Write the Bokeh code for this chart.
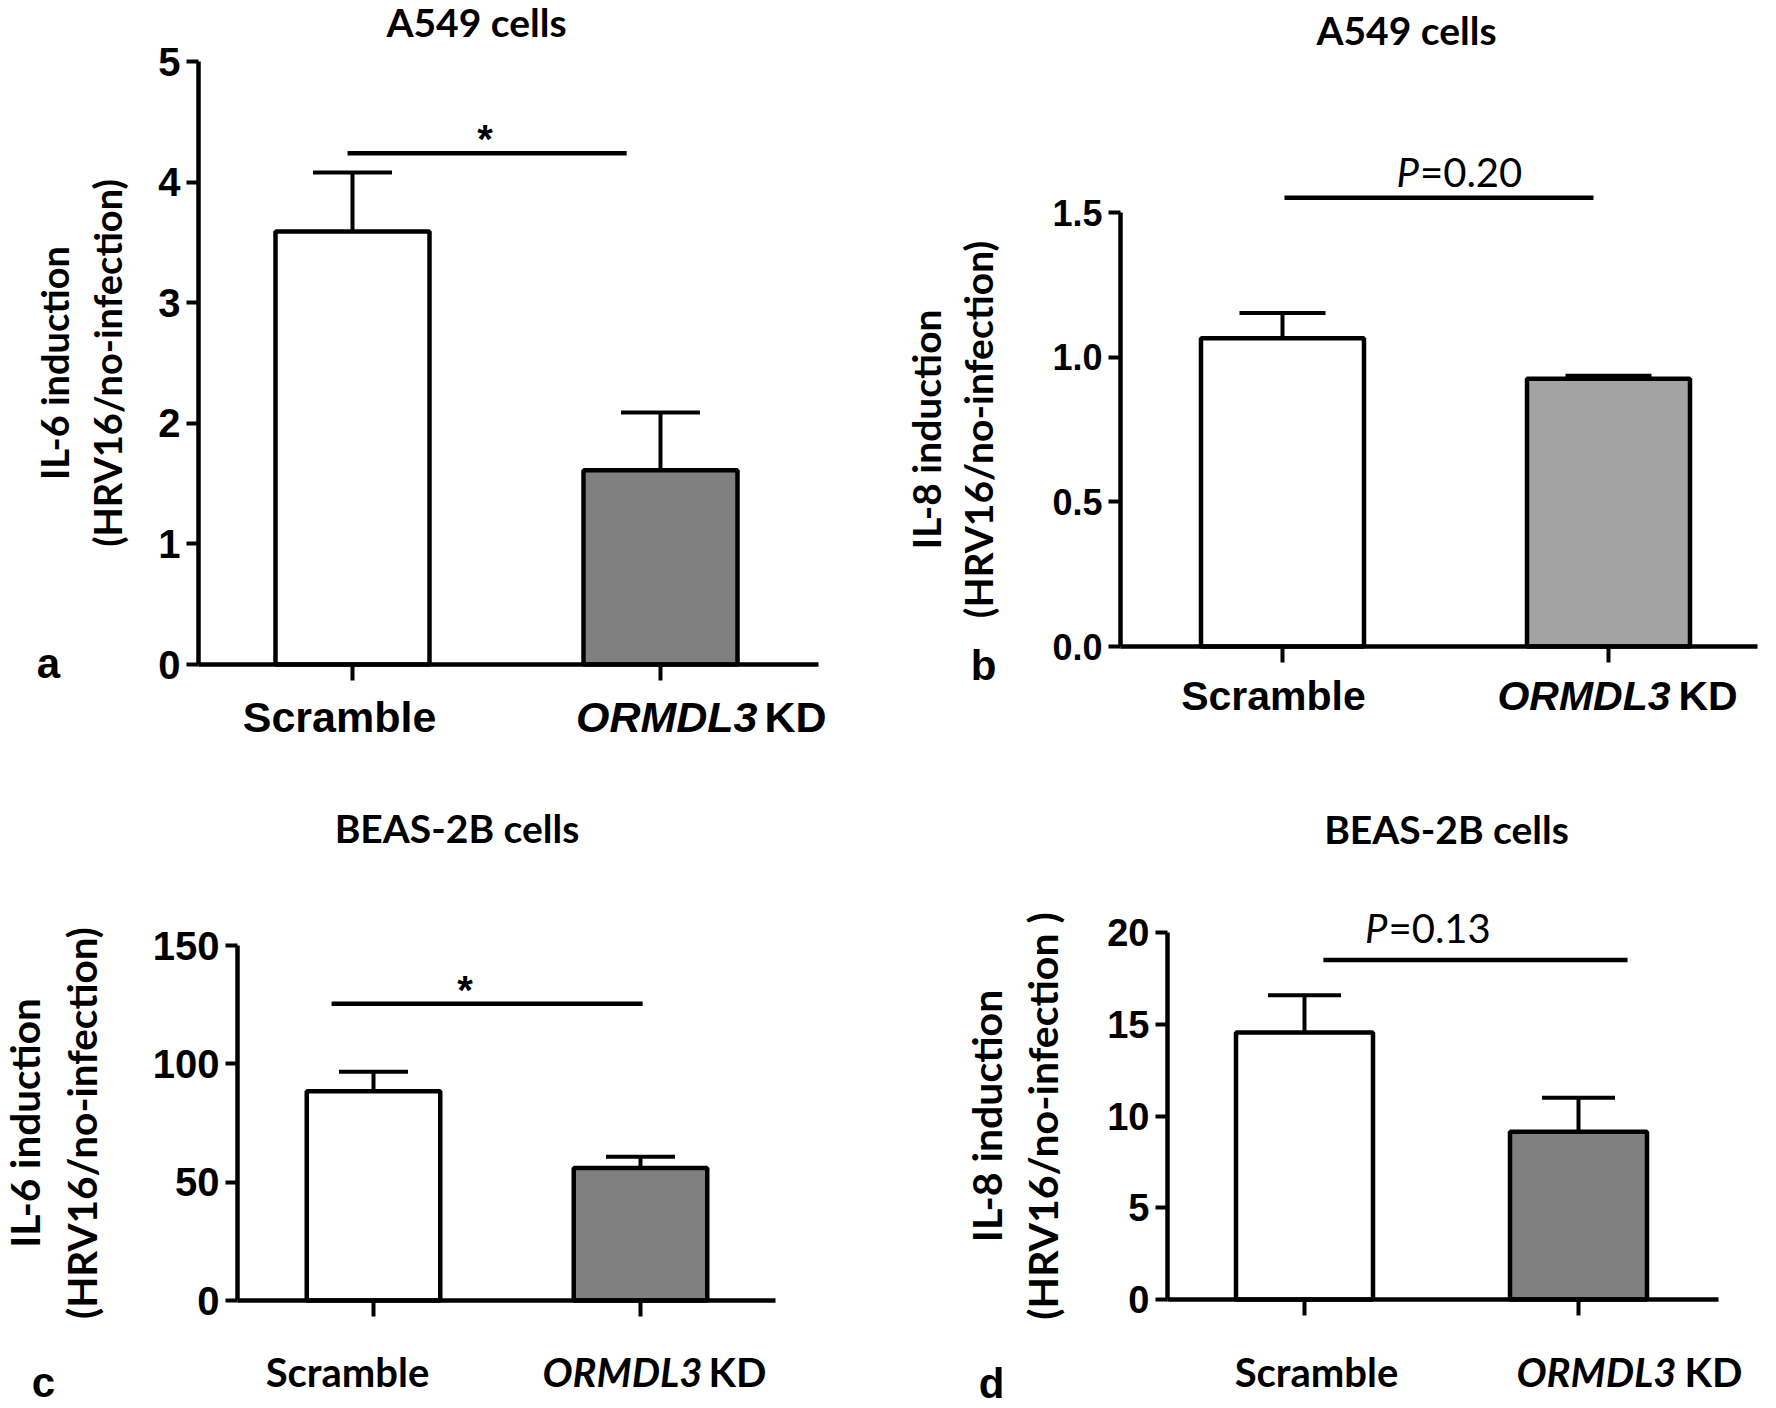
from bokeh.plotting import figure
from bokeh.models import (Range1d, FixedTicker, Label, Whisker, TeeHead,
                          ColumnDataSource, NumeralTickFormatter)
from bokeh.layouts import column, row
from bokeh.embed import file_html
from bokeh.resources import INLINE

# ---------------- data ----------------
cat_x = [1, 2]
cat_main = ["Scramble", "ORMDL3"]
cat_suffix = ["", "KD"]

a_title = "A549 cells"
a_ylabel = "IL-6 induction\n(HRV16/no-infection)"
a_means = [3.59, 1.61]
a_sems = [0.49, 0.48]
a_yticks = [0, 1, 2, 3, 4, 5]
a_sig_x = [0.984, 1.890]
a_sig_y = 4.24
a_sig_text = "*"

b_title = "A549 cells"
b_ylabel = "IL-8 induction\n(HRV16/no-infection)"
b_means = [1.065, 0.925]
b_sems = [0.088, 0.011]
b_yticks = [0, 0.5, 1.0, 1.5]
b_sig_x = [1.006, 1.954]
b_sig_y = 1.551
b_sig_p = "0.20"

c_title = "BEAS-2B cells"
c_ylabel = "IL-6 induction\n(HRV16/no-infection)"
c_means = [88.4, 56.0]
c_sems = [8.3, 4.7]
c_yticks = [0, 50, 100, 150]
c_sig_x = [0.843, 2.008]
c_sig_y = 125.4
c_sig_text = "*"

d_title = "BEAS-2B cells"
d_ylabel = "IL-8 induction\n(HRV16/no-infection )"
d_means = [14.55, 9.14]
d_sems = [2.03, 1.86]
d_yticks = [0, 5, 10, 15, 20]
d_sig_x = [1.069, 2.179]
d_sig_y = 18.5
d_sig_p = "0.13"

panel_letters = ["a", "b", "c", "d"]

CAL = "Lato"
ARI = "Liberation Sans"
INK = "black"


def make_panel(title, ylabel, means, sems, yticks, sig_x, sig_y, letter,
               sig_text=None, sig_p=None, *, L):
    # layout: pixel geometry of the panel (figure origin, size, axis pixels)
    ox, oy, W, H = L["box"]
    t1, t2, axl, axr, y0, ytop = L["px"]
    ymax = yticks[-1]
    kx = float(t2 - t1)                 # px per x unit
    ky = (y0 - ytop) / ymax             # px per y unit
    xs = cat_x[0] - (t1 - ox) / kx
    xe = xs + W / kx
    ys = -(oy + H - y0) / ky
    ye = (y0 - oy) / ky
    x_lo = cat_x[0] - (t1 - axl) / kx
    x_hi = cat_x[0] + (axr - t1) / kx

    p = figure(width=W, height=H, output_backend="svg", toolbar_location=None,
               title=None, x_range=Range1d(xs, xe), y_range=Range1d(ys, ye),
               min_border=0)
    p.outline_line_color = None
    p.xgrid.visible = False
    p.ygrid.visible = False
    p.background_fill_color = "white"
    p.border_fill_color = "white"

    fills = ["white", L["gray"]]
    src = ColumnDataSource(dict(x=cat_x, top=means,
                                upper=[m + s for m, s in zip(means, sems)],
                                fill=fills))
    p.vbar(x="x", top="top", bottom=0, width=0.5, fill_color="fill",
           line_color=INK, line_width=4.5, source=src)
    w = Whisker(source=src, base="x", lower="top", upper="upper",
                line_width=4, line_color=INK,
                upper_head=TeeHead(size=L["cap"], line_width=4, line_color=INK),
                lower_head=None)
    p.add_layout(w)

    # significance bar
    p.line(x=sig_x, y=[sig_y, sig_y], line_width=4.5, line_color=INK)
    xm = (sig_x[0] + sig_x[1]) / 2
    if sig_text is not None:
        p.add_layout(Label(x=xm, y=sig_y, text=sig_text, x_offset=L["sx"],
                           y_offset=L["sy"], text_align="center",
                           text_baseline="middle", text_font=ARI,
                           text_font_style="bold", text_font_size=L["sfs"],
                           text_color=INK))
    if sig_p is not None:
        p.add_layout(Label(x=xm, y=sig_y, text="P", x_offset=L["sx"],
                           y_offset=L["sy"], text_align="right",
                           text_baseline="middle", text_font=CAL,
                           text_font_style="italic", text_font_size=L["sfs"],
                           text_color=INK))
        p.add_layout(Label(x=xm, y=sig_y, text="=" + sig_p, x_offset=L["sx"] + 1,
                           y_offset=L["sy"], text_align="left",
                           text_baseline="middle", text_font=CAL,
                           text_font_style="normal", text_font_size=L["sfs"],
                           text_color=INK))

    # axes (drawn at fixed data locations, limited by bounds)
    xa = p.xaxis[0]
    xa.fixed_location = 0
    xa.bounds = (x_lo, x_hi)
    xa.ticker = FixedTicker(ticks=cat_x)
    xa.major_label_overrides = {1: "", 2: ""}
    xa.axis_line_width = 4.5
    xa.axis_line_color = INK
    xa.major_tick_line_width = 4
    xa.major_tick_line_color = INK
    xa.major_tick_out = 16
    xa.major_tick_in = 0
    xa.minor_tick_line_color = None

    ya = p.yaxis[0]
    ya.fixed_location = x_lo
    ya.bounds = (0, ymax)
    ya.ticker = FixedTicker(ticks=yticks)
    if L.get("fmt"):
        ya.formatter = NumeralTickFormatter(format=L["fmt"])
    ya.axis_line_width = 4.5
    ya.axis_line_color = INK
    ya.major_tick_line_width = 4
    ya.major_tick_line_color = INK
    ya.major_tick_out = 12
    ya.major_tick_in = 0
    ya.minor_tick_line_color = None
    ya.major_label_standoff = 6
    ya.major_label_text_font = ARI
    ya.major_label_text_font_style = "bold"
    ya.major_label_text_font_size = L["tfs"]
    ya.major_label_text_color = INK
    ya.axis_label = ylabel
    ya.axis_label_text_font = CAL
    ya.axis_label_text_font_style = "bold"
    ya.axis_label_text_font_size = L["yfs"]
    ya.axis_label_text_line_height = 1.15
    ya.axis_label_standoff = L["ystand"]
    ya.axis_label_text_color = INK

    # category labels
    f = L["cf"]
    p.add_layout(Label(x=cat_x[0], y=0, text=cat_main[0], x_offset=L["c1x"],
                       y_offset=L["cy"], text_align="center", text_baseline="middle",
                       text_font=f, text_font_style="bold", text_font_size=L["cfs"],
                       text_color=INK))
    p.add_layout(Label(x=cat_x[1], y=0, text=cat_main[1], x_offset=L["c2x"],
                       y_offset=L["cy"], text_align="right", text_baseline="middle",
                       text_font=f, text_font_style="bold italic",
                       text_font_size=L["cfs"], text_color=INK))
    p.add_layout(Label(x=cat_x[1], y=0, text=cat_suffix[1], x_offset=L["c3x"],
                       y_offset=L["cy"], text_align="left", text_baseline="middle",
                       text_font=f, text_font_style="bold", text_font_size=L["cfs"],
                       text_color=INK))

    # title
    p.add_layout(Label(x=(cat_x[0] + cat_x[1]) / 2, y=ymax, text=title,
                       x_offset=L["tx"], y_offset=L["ty"], text_align="center",
                       text_baseline="middle", text_font=CAL,
                       text_font_style="bold", text_font_size=L["ttfs"],
                       text_color=INK))
    # panel letter
    p.add_layout(Label(x=x_lo, y=0, text=letter, x_offset=L["lx"],
                       y_offset=L["ly"], text_align="center", text_baseline="middle",
                       text_font=ARI, text_font_style="bold", text_font_size="42px",
                       text_color=INK))
    return p


La = dict(box=(0, 0, 880, 760), px=(352, 660, 198, 818, 664, 61),
          gray="#808080", cap=79, sx=-2, sy=14, sfs="40px",
          tfs="40px", yfs="38px", ystand=25,
          cf=ARI, cfs="43px", c1x=-13, c2x=97, c3x=104, cy=-52,
          tx=-30, ty=40, ttfs="39px", lx=-150, ly=1)
Lb = dict(box=(880, 0, 896, 760), px=(1282, 1608, 1120, 1757, 646, 212),
          gray="#a3a3a3", cap=86, sx=-20, sy=26, sfs="40px",
          tfs="36px", yfs="39px", ystand=48, fmt="0.0",
          cf=ARI, cfs="41px", c1x=-9, c2x=62, c3x=70, cy=-49,
          tx=-39, ty=183, ttfs="39px", lx=-137, ly=-19)
Lc = dict(box=(0, 760, 880, 648), px=(373, 640, 237, 775, 1300, 945),
          gray="#808080", cap=69, sx=-22, sy=14, sfs="40px",
          tfs="40px", yfs="40.5px", ystand=44,
          cf=CAL, cfs="40px", c1x=-26, c2x=62, c3x=68, cy=-71,
          tx=-50, ty=118, ttfs="39px", lx=-194, ly=-82)
Ld = dict(box=(880, 760, 896, 648), px=(1304, 1578, 1167, 1718, 1299, 932),
          gray="#808080", cap=73, sx=-88, sy=32, sfs="40px",
          tfs="38px", yfs="41px", ystand=37,
          cf=CAL, cfs="40px", c1x=12, c2x=98, c3x=106, cy=-72,
          tx=5, ty=104, ttfs="39px", lx=-176, ly=-84)

pa = make_panel(a_title, a_ylabel, a_means, a_sems, a_yticks, a_sig_x, a_sig_y,
                panel_letters[0], sig_text=a_sig_text, L=La)
pb = make_panel(b_title, b_ylabel, b_means, b_sems, b_yticks, b_sig_x, b_sig_y,
                panel_letters[1], sig_p=b_sig_p, L=Lb)
pc = make_panel(c_title, c_ylabel, c_means, c_sems, c_yticks, c_sig_x, c_sig_y,
                panel_letters[2], sig_text=c_sig_text, L=Lc)
pd = make_panel(d_title, d_ylabel, d_means, d_sems, d_yticks, d_sig_x, d_sig_y,
                panel_letters[3], sig_p=d_sig_p, L=Ld)

layout = column(row(pa, pb), row(pc, pd))
open("out.html", "w").write(file_html(layout, INLINE))
